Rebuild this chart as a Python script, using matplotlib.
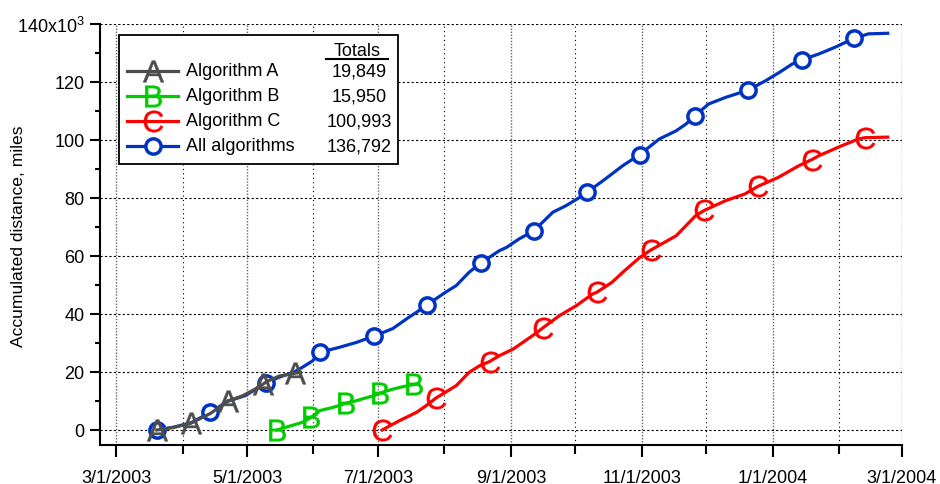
import matplotlib
matplotlib.use("Agg")
import matplotlib.pyplot as plt
import matplotlib.dates as mdates
from matplotlib.lines import Line2D
from matplotlib.patches import Rectangle
from matplotlib.ticker import FuncFormatter, MultipleLocator
import pandas as pd

plt.rcParams["font.family"] = ["Liberation Sans", "DejaVu Sans"]
plt.rcParams["mathtext.default"] = "regular"

START = pd.Timestamp("2003-03-01")

# days since 3/1/2003, accumulated miles (x1000)
days_a = [19, 27, 35, 44, 52, 59, 65, 68.5, 70, 76, 83.5, 86]
vals_a = [0, 0.9, 2.4, 5.7, 10.0, 11.8, 14.2, 15.8, 16.6, 18.6, 19.6, 19.85]
marks_a = [19, 35, 52, 68.5, 83.5]

days_b = [75, 83, 87, 91, 95, 100, 104, 107, 112, 116, 120, 123, 129, 134, 139, 141]
vals_b = [0, 1.8, 2.7, 4.4, 6.7, 7.6, 8.4, 9.2, 10.1, 11.0, 11.8, 12.7, 14.1, 15.0, 15.7, 15.95]
marks_b = [75, 91, 107, 123, 139]

days_c = [124, 132, 140, 144.5, 149, 158.5, 164.5, 169.5, 174, 178.5, 185, 194, 199,
          206.5, 214.5, 222, 224, 231, 237, 244, 249, 261, 270, 274, 284, 293, 299,
          308.5, 318, 324, 327.5, 338, 346, 349, 359.5]
vals_c = [0, 3.2, 6.1, 8.4, 11.0, 15.3, 19.9, 22.2, 23.6, 25.6, 27.9, 32.5, 35.3,
          39.4, 42.9, 46.9, 47.5, 50.9, 55.0, 59.5, 62.0, 67.0, 73.9, 75.7, 79.1, 81.4, 84.0,
          87.1, 91.1, 93.2, 94.6, 98.0, 100.4, 100.8, 100.99]
marks_c = [124, 149, 174, 199, 224, 249, 274, 299, 324, 349]

days_all = [19, 27, 35, 44, 52, 60, 66, 70, 76, 83, 87, 91.5, 95, 104, 112, 116.5, 120,
            129, 136.5, 140, 145, 153.5, 158.5, 164.5, 170, 178.5, 182, 188, 194.5, 203.5,
            209.5, 216, 219.5, 228, 236, 244, 253, 261, 265.5, 269.5, 276, 284, 294.5,
            302.5, 309, 315, 319.5, 327.5, 335, 344, 350.5, 359.5]
vals_all = [0, 1.0, 2.5, 6.1, 9.9, 11.8, 14.4, 16.3, 18.2, 20.0, 21.7, 23.8, 26.8, 28.5,
            30.2, 31.4, 32.3, 35.0, 38.9, 40.6, 43.2, 47.5, 49.8, 54.4, 57.6, 61.8, 63.0,
            66.0, 68.6, 75.1, 77.3, 80.2, 82.0, 86.6, 91.1, 95.0, 100.3, 103.2, 105.5,
            108.2, 112.4, 114.7, 117.2, 120.4, 123.3, 126.2, 127.6, 129.7, 132.0, 135.1,
            136.6, 136.8]
marks_all = [19, 44, 70, 95, 120, 145, 170, 194.5, 219.5, 244, 269.5, 294.5, 319.5, 344]

names = ["Algorithm A", "Algorithm B", "Algorithm C", "All algorithms"]
totals = ["19,849", "15,950", "100,993", "136,792"]
colors = ["#4d4d4d", "#00cc00", "#ff0000", "#0033c4"]
markers = ["$A$", "$B$", "$C$", "o"]


def to_dates(days):
    return START + pd.to_timedelta(days, unit="D")


def marker_style(m, c):
    if m == "o":
        return dict(marker="o", markersize=11, markerfacecolor="white",
                    markeredgecolor=c, markeredgewidth=2.5)
    return dict(marker=m, markersize=15.5, markerfacecolor=c,
                markeredgecolor=c, markeredgewidth=0.3)


fig = plt.figure(figsize=(9.4, 4.85), dpi=100)
W, H = 940, 485
ax = fig.add_axes([100 / W, 1 - 445.5 / H, (901.7 - 100) / W, (445.5 - 25) / H])

series = [(days_a, vals_a, marks_a), (days_b, vals_b, marks_b),
          (days_c, vals_c, marks_c), (days_all, vals_all, marks_all)]
zorders = [4, 4, 4, 3]
for (d, v, mk), c, m, z in zip(series, colors, markers, zorders):
    ax.plot(to_dates(d), v, color=c, lw=2.3, zorder=z,
            markevery=[d.index(x) for x in mk], **marker_style(m, c))

ax.set_xlim(START - pd.Timedelta(days=7.45), pd.Timestamp("2004-03-01"))
ax.set_ylim(-5, 140)

ax.xaxis.set_major_locator(mdates.MonthLocator(bymonth=[1, 3, 5, 7, 9, 11]))
ax.xaxis.set_minor_locator(mdates.MonthLocator())
ax.xaxis.set_major_formatter(FuncFormatter(
    lambda x, pos: (lambda d: f"{d.month}/{d.day}/{d.year}")(mdates.num2date(x))))
ax.yaxis.set_major_locator(MultipleLocator(20))
ax.yaxis.set_minor_locator(MultipleLocator(10))
ax.yaxis.set_major_formatter(FuncFormatter(
    lambda y, pos: r"140x10$^3$" if round(y) == 140 else f"{y:.0f}"))

for s in ["top", "right"]:
    ax.spines[s].set_visible(False)
for s in ["left", "bottom"]:
    ax.spines[s].set_linewidth(1.5)
ax.spines["left"].set_bounds(-5, 140)

ax.tick_params(axis="both", which="major", labelsize=13, width=1.5, color="black")
ax.tick_params(axis="x", which="major", length=8.5, pad=9)
ax.tick_params(axis="x", which="minor", length=6.5, width=1.5)
ax.tick_params(axis="y", which="major", length=7, pad=4)
ax.tick_params(axis="y", which="minor", length=3.5, width=1.5)

ax.grid(axis="y", which="major", color="black", lw=0.8, ls=(0, (2, 2)))
ax.grid(axis="x", which="major", color="#666666", lw=1.0, ls=(0, (1, 1.2)))
ax.grid(axis="x", which="minor", color="black", lw=0.8, ls=(0, (1, 3)))
ax.set_axisbelow(True)

ax.set_ylabel("Accumulated distance, miles", fontsize=12.6)
ax.yaxis.set_label_coords((26 - 100) / (901.7 - 100), (445.5 - 236) / (445.5 - 25))


def fx(x):
    return x / W


def fy(y):
    return 1 - y / H


# legend box with totals column
fig.add_artist(Rectangle((fx(119), fy(165)), (398 - 119) / W, (165 - 36) / H,
                         transform=fig.transFigure, facecolor="white",
                         edgecolor="black", lw=1.3, zorder=10))
fig.text(fx(357), fy(51), "Totals", ha="center", va="center", fontsize=13, zorder=11)
fig.add_artist(Line2D([fx(326), fx(388)], [fy(60), fy(60)], transform=fig.transFigure,
                      color="black", lw=1.5, zorder=11))
rows_y = [71.7, 96.7, 121.7, 146.7]
for name, tot, c, m, y in zip(names, totals, colors, markers, rows_y):
    fig.add_artist(Line2D([fx(127), fx(152.5), fx(178)], [fy(y)] * 3,
                          transform=fig.transFigure, color=c, lw=2.3, zorder=11,
                          markevery=[1], **marker_style(m, c)))
    fig.text(fx(186), fy(y), name, ha="left", va="center", fontsize=13, zorder=11)
    fig.text(fx(359), fy(y), tot, ha="center", va="center", fontsize=13, zorder=11)

fig.savefig("out.png", dpi=100)
plt.close(fig)
